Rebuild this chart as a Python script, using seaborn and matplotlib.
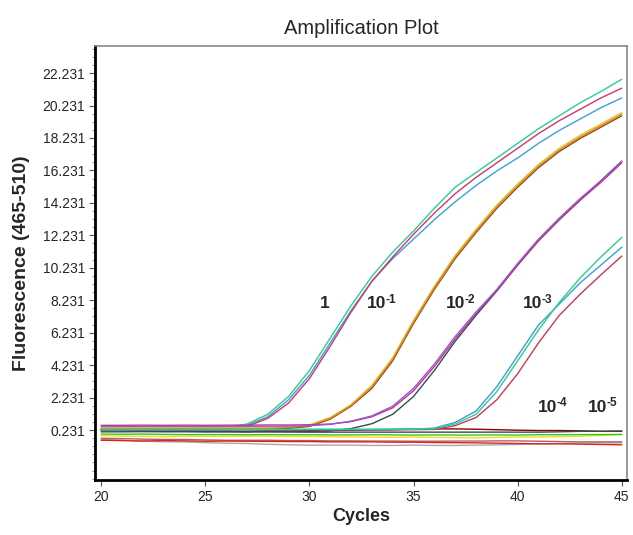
import numpy as np
import pandas as pd
import matplotlib
matplotlib.use("Agg")
import matplotlib.pyplot as plt
from matplotlib.ticker import MultipleLocator, FormatStrFormatter
import seaborn as sns

cycles = list(range(20, 46))

# dilution 1
g1_teal = [0.34, 0.33, 0.35, 0.34, 0.35, 0.36, 0.40, 0.60, 1.20, 2.30, 3.90, 5.90, 7.90, 9.70, 11.2, 12.5, 13.9, 15.2, 16.1, 17.0, 17.9, 18.8, 19.6, 20.4, 21.1, 21.85]
g1_red = [0.26, 0.25, 0.27, 0.26, 0.25, 0.26, 0.28, 0.45, 0.95, 1.90, 3.40, 5.40, 7.50, 9.40, 10.9, 12.3, 13.6, 14.8, 15.8, 16.7, 17.6, 18.5, 19.3, 20.0, 20.7, 21.3]
g1_blue = [0.30, 0.29, 0.31, 0.30, 0.30, 0.31, 0.33, 0.52, 1.05, 2.10, 3.60, 5.60, 7.60, 9.40, 10.8, 12.0, 13.2, 14.3, 15.3, 16.2, 17.0, 17.9, 18.7, 19.4, 20.1, 20.7]
# dilution 10^-1
g2_orange = [0.32, 0.32, 0.33, 0.32, 0.33, 0.32, 0.33, 0.33, 0.34, 0.38, 0.50, 0.95, 1.75, 2.90, 4.60, 6.90, 9.00, 10.9, 12.5, 14.0, 15.3, 16.5, 17.5, 18.3, 19.0, 19.7]
g2_yellow = [0.36, 0.36, 0.37, 0.36, 0.37, 0.36, 0.37, 0.37, 0.38, 0.42, 0.55, 1.00, 1.80, 3.00, 4.70, 7.00, 9.10, 11.0, 12.6, 14.1, 15.4, 16.6, 17.6, 18.4, 19.1, 19.8]
g2_brown = [0.28, 0.28, 0.29, 0.28, 0.29, 0.28, 0.29, 0.29, 0.30, 0.33, 0.45, 0.90, 1.70, 2.80, 4.50, 6.80, 8.90, 10.8, 12.4, 13.9, 15.2, 16.4, 17.4, 18.2, 18.9, 19.6]
# dilution 10^-2
g3_purple = [0.45, 0.45, 0.46, 0.45, 0.46, 0.45, 0.46, 0.46, 0.47, 0.47, 0.50, 0.58, 0.78, 1.10, 1.70, 2.80, 4.30, 6.00, 7.50, 8.90, 10.5, 12.0, 13.3, 14.5, 15.6, 16.8]
g3_magenta = [0.52, 0.52, 0.53, 0.52, 0.53, 0.52, 0.53, 0.53, 0.54, 0.54, 0.55, 0.60, 0.75, 1.05, 1.60, 2.65, 4.15, 5.85, 7.40, 8.85, 10.4, 11.9, 13.2, 14.4, 15.5, 16.7]
g3_dark = [0.12, 0.12, 0.13, 0.12, 0.13, 0.12, 0.13, 0.13, 0.13, 0.13, 0.14, 0.18, 0.32, 0.62, 1.20, 2.30, 3.90, 5.70, 7.30, 8.80, 10.4, 11.9, 13.2, 14.4, 15.6, 16.8]
# dilution 10^-3
g4_teal = [0.26, 0.26, 0.27, 0.26, 0.27, 0.26, 0.27, 0.27, 0.27, 0.27, 0.28, 0.28, 0.28, 0.28, 0.29, 0.29, 0.32, 0.60, 1.20, 2.60, 4.50, 6.40, 8.10, 9.60, 10.9, 12.1]
g4_blue = [0.24, 0.24, 0.25, 0.24, 0.25, 0.24, 0.25, 0.25, 0.25, 0.25, 0.26, 0.26, 0.26, 0.26, 0.27, 0.28, 0.35, 0.70, 1.40, 2.90, 4.80, 6.70, 8.00, 9.30, 10.4, 11.5]
g4_red = [0.22, 0.22, 0.23, 0.22, 0.23, 0.22, 0.23, 0.23, 0.23, 0.23, 0.24, 0.24, 0.24, 0.24, 0.25, 0.25, 0.27, 0.50, 1.00, 2.10, 3.70, 5.60, 7.30, 8.60, 9.80, 10.95]
# 10^-4, 10^-5 and negatives (flat)
f_slate = [0.20, 0.18, 0.17, 0.15, 0.14, 0.13, 0.12, 0.12, 0.12, 0.11, 0.10, 0.10, 0.10, 0.10, 0.10, 0.10, 0.10, 0.10, 0.10, 0.10, 0.10, 0.10, 0.12, 0.15, 0.15, 0.17]
f_green = [-0.02, -0.03, -0.02, -0.04, -0.05, -0.05, -0.05, -0.06, -0.05, -0.06, -0.06, -0.07, -0.07, -0.06, -0.07, -0.08, -0.07, -0.08, -0.08, -0.07, -0.08, -0.06, -0.06, -0.05, -0.05, -0.04]
f_yellow = [-0.12, -0.15, -0.15, -0.18, -0.15, -0.16, -0.16, -0.15, -0.15, -0.17, -0.17, -0.18, -0.20, -0.20, -0.22, -0.20, -0.22, -0.24, -0.25, -0.22, -0.20, -0.20, -0.18, -0.15, -0.10, -0.05]
f_red = [-0.40, -0.42, -0.45, -0.42, -0.44, -0.46, -0.45, -0.46, -0.47, -0.48, -0.48, -0.50, -0.50, -0.50, -0.52, -0.52, -0.54, -0.55, -0.56, -0.58, -0.60, -0.62, -0.62, -0.64, -0.66, -0.68]
f_gray = [-0.35, -0.40, -0.45, -0.50, -0.50, -0.55, -0.58, -0.60, -0.65, -0.68, -0.70, -0.70, -0.70, -0.72, -0.72, -0.70, -0.72, -0.72, -0.70, -0.68, -0.66, -0.62, -0.60, -0.58, -0.56, -0.56]
f_brown = [-0.28, -0.30, -0.33, -0.35, -0.35, -0.38, -0.40, -0.40, -0.40, -0.42, -0.42, -0.44, -0.44, -0.45, -0.45, -0.46, -0.46, -0.45, -0.45, -0.44, -0.44, -0.46, -0.48, -0.50, -0.50, -0.50]
f_darkred = [0.22, 0.22, 0.20, 0.20, 0.18, 0.20, 0.16, 0.12, 0.20, 0.22, 0.20, 0.20, 0.22, 0.24, 0.25, 0.28, 0.30, 0.30, 0.28, 0.25, 0.22, 0.20, 0.20, 0.18, 0.15, 0.15]

series = {
    "f_gray": (f_gray, "#a8a8a8"),
    "f_brown": (f_brown, "#b06060"),
    "f_red": (f_red, "#e02020"),
    "f_yellow": (f_yellow, "#f2dc1a"),
    "f_green": (f_green, "#40c020"),
    "f_darkred": (f_darkred, "#8b0000"),
    "f_slate": (f_slate, "#2f4f4f"),
    "g1_blue": (g1_blue, "#3aa0d8"),
    "g1_red": (g1_red, "#d6336c"),
    "g1_teal": (g1_teal, "#2ecc8f"),
    "g2_brown": (g2_brown, "#8b4513"),
    "g2_yellow": (g2_yellow, "#e3c840"),
    "g2_orange": (g2_orange, "#e08a1e"),
    "g3_dark": (g3_dark, "#2f4f4f"),
    "g3_magenta": (g3_magenta, "#c03090"),
    "g3_purple": (g3_purple, "#9b59d0"),
    "g4_red": (g4_red, "#c8385a"),
    "g4_blue": (g4_blue, "#3aa0d8"),
    "g4_teal": (g4_teal, "#2ecc8f"),
}

rows = []
for name, (vals, _) in series.items():
    for c, v in zip(cycles, vals):
        rows.append({"Cycle": c, "Fluor": v, "series": name})
df = pd.DataFrame(rows)
palette = {k: col for k, (_, col) in series.items()}

# dilution labels: base text, superscript exponent, anchor position
label_base = ["1", "10", "10", "10", "10", "10"]
label_exp = ["", "-1", "-2", "-3", "-4", "-5"]
label_x = [30.75, 33.7, 37.5, 41.2, 41.9, 44.3]
label_y = [8.0, 8.0, 8.0, 8.0, 1.6, 1.6]
ytick_vals = [0.231 + 2 * i for i in range(12)]

sns.set_style("white")
plt.rcParams["font.family"] = ["Liberation Sans", "DejaVu Sans"]

fig = plt.figure(figsize=(6.33, 5.35), dpi=100)
ax = fig.add_axes([0.150, 0.1028, 0.8405, 0.8112])

sns.lineplot(data=df, x="Cycle", y="Fluor", hue="series", palette=palette,
             hue_order=list(series.keys()), estimator=None, sort=False,
             legend=False, linewidth=1.0, ax=ax)

for base, ex, x, y in zip(label_base, label_exp, label_x, label_y):
    if ex:
        ax.annotate(base, (x, y), xytext=(0, 0), textcoords="offset points",
                    ha="right", va="center", fontsize=12.5, fontweight="bold")
        ax.annotate(ex, (x, y), xytext=(-0.6, 3.2), textcoords="offset points",
                    ha="left", va="center", fontsize=8.5, fontweight="bold")
    else:
        ax.text(x, y, base, fontsize=12.5, fontweight="bold", ha="center", va="center")

ax.set_xlim(19.7, 45.25)
ax.set_ylim(-2.85, 23.9)
ax.set_xticks([20, 25, 30, 35, 40, 45])
ax.set_yticks(ytick_vals)
ax.yaxis.set_major_formatter(FormatStrFormatter("%.3f"))
ax.yaxis.set_minor_locator(MultipleLocator(0.5, offset=0.231))
ax.tick_params(axis="both", which="major", direction="out", length=4, width=0.8,
               labelsize=10, color="#555555", left=True, bottom=True, pad=3)
ax.tick_params(axis="y", which="minor", direction="out", length=2, width=0.6,
               color="#777777", left=True)

for side in ["left", "bottom"]:
    ax.spines[side].set_color("black")
    ax.spines[side].set_linewidth(2.0)
for side in ["top", "right"]:
    ax.spines[side].set_color("#888888")
    ax.spines[side].set_linewidth(1.2)

ax.set_title("Amplification Plot", fontsize=14.5, pad=9)
ax.set_xlabel("Cycles", fontsize=13, fontweight="bold", labelpad=3)
ax.set_ylabel("Fluorescence (465-510)", fontsize=14, fontweight="bold", labelpad=9)

fig.savefig("out.png", dpi=100)
